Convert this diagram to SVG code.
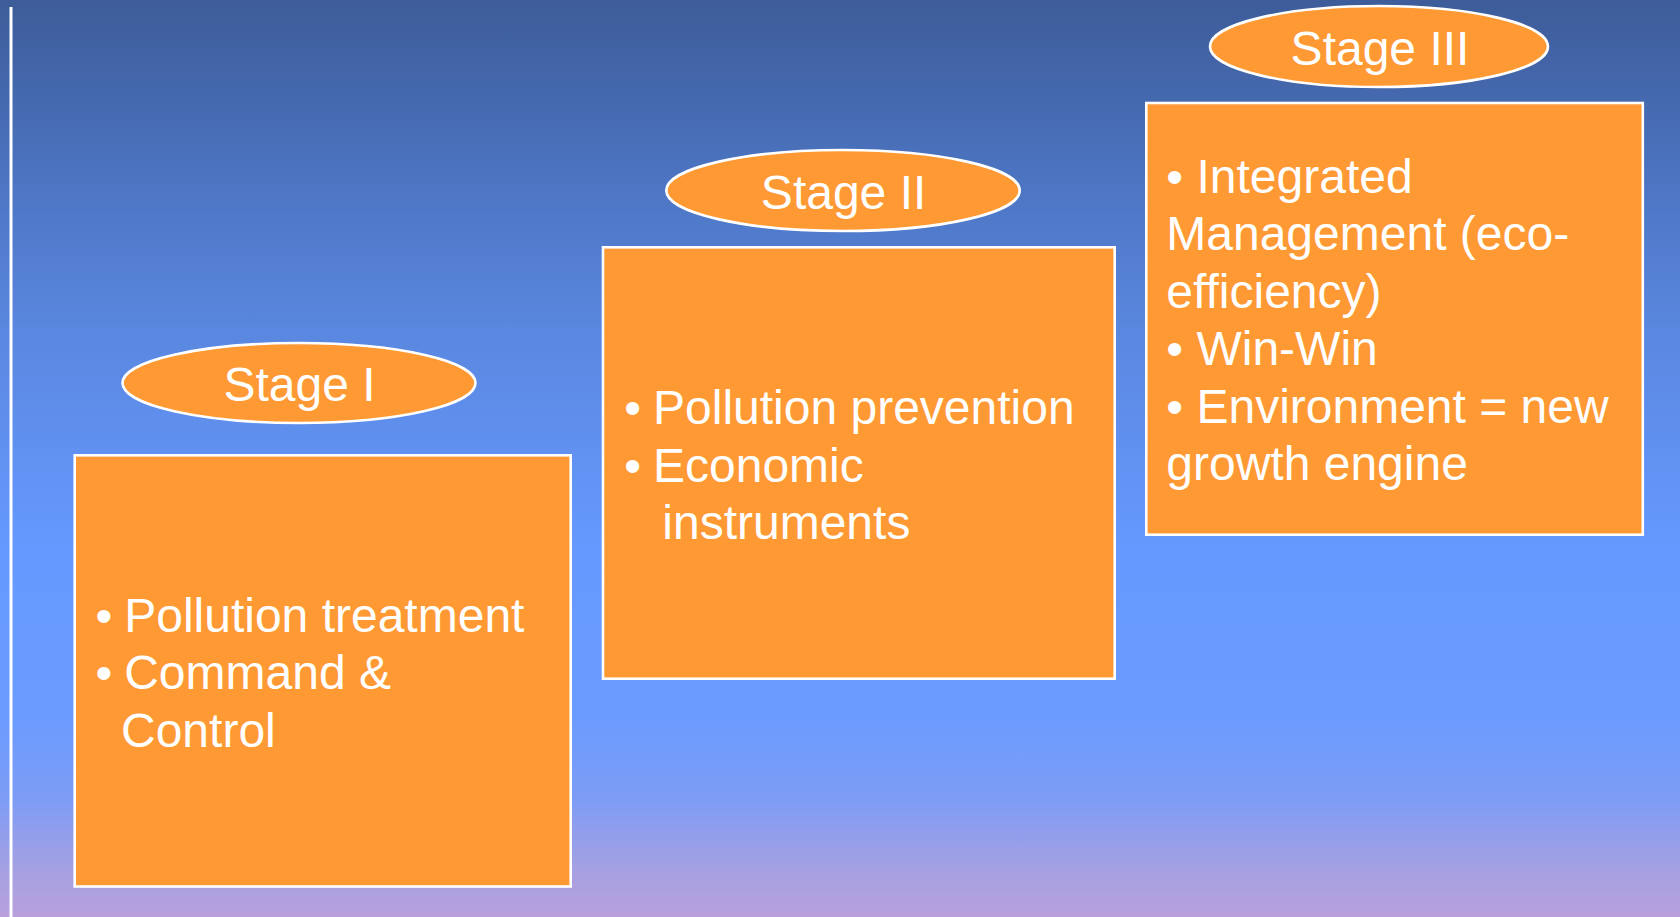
<svg xmlns="http://www.w3.org/2000/svg" width="1680" height="917" viewBox="0 0 1680 917">
  <defs>
    <linearGradient id="bg" x1="0" y1="0" x2="0" y2="1">
      <stop offset="0" stop-color="#3d5c99"/>
      <stop offset="0.22" stop-color="#4e77c6"/>
      <stop offset="0.36" stop-color="#5a87df"/>
      <stop offset="0.6" stop-color="#6699ff"/>
      <stop offset="0.78" stop-color="#6a9bff"/>
      <stop offset="0.87" stop-color="#7d9cf5"/>
      <stop offset="0.95" stop-color="#a6a0e2"/>
      <stop offset="1" stop-color="#b8a0dc"/>
    </linearGradient>
    <style>
      .box { fill: #ff9933; stroke: #ffffff; stroke-width: 2.6; }
      .oval { fill: #ff9933; stroke: #ffffff; stroke-width: 2.6; }
      .t { font-family: "Liberation Sans", Arial, sans-serif; font-size: 48px; fill: #ffffff; }
      .c { text-anchor: middle; }
    </style>
  </defs>
  <rect x="0" y="0" width="1680" height="917" fill="url(#bg)"/>
  <rect x="9.5" y="7" width="3" height="910" fill="#ffffff"/>

  <g id="connectors"/>

  <g id="stage1-label">
    <ellipse class="oval" cx="299" cy="383" rx="176.5" ry="40"/>
    <text class="t c" x="299.5" y="401">Stage I</text>
  </g>
  <g id="stage1-box">
    <rect class="box" x="74.7" y="455.3" width="496" height="431.2"/>
    <text class="t">
      <tspan x="95.5" y="631.5">•</tspan><tspan x="124.2" y="631.5">Pollution treatment</tspan>
      <tspan x="95.5" y="689">•</tspan><tspan x="124.2" y="689">Command &amp;</tspan>
      <tspan x="121" y="746.5">Control</tspan>
    </text>
  </g>

  <g id="stage2-label">
    <ellipse class="oval" cx="843" cy="190.5" rx="176.7" ry="40.5"/>
    <text class="t c" x="843.6" y="208.6">Stage II</text>
  </g>
  <g id="stage2-box">
    <rect class="box" x="603" y="247.3" width="511.7" height="431.4"/>
    <text class="t">
      <tspan x="624.2" y="424">•</tspan><tspan x="653" y="424">Pollution prevention</tspan>
      <tspan x="624.2" y="481.5">•</tspan><tspan x="653" y="481.5">Economic</tspan>
      <tspan x="662.3" y="539">instruments</tspan>
    </text>
  </g>

  <g id="stage3-label">
    <ellipse class="oval" cx="1379" cy="46.5" rx="169" ry="40.5"/>
    <text class="t c" x="1380" y="65.4">Stage III</text>
  </g>
  <g id="stage3-box">
    <rect class="box" x="1146.3" y="103" width="496.5" height="431.7"/>
    <text class="t">
      <tspan x="1166.3" y="192.5">• Integrated</tspan>
      <tspan x="1166.3" y="250">Management (eco-</tspan>
      <tspan x="1166.3" y="307.5">efficiency)</tspan>
      <tspan x="1166.3" y="365">• Win-Win</tspan>
      <tspan x="1166.3" y="422.5">• Environment = new</tspan>
      <tspan x="1166.3" y="480">growth engine</tspan>
    </text>
  </g>
</svg>
